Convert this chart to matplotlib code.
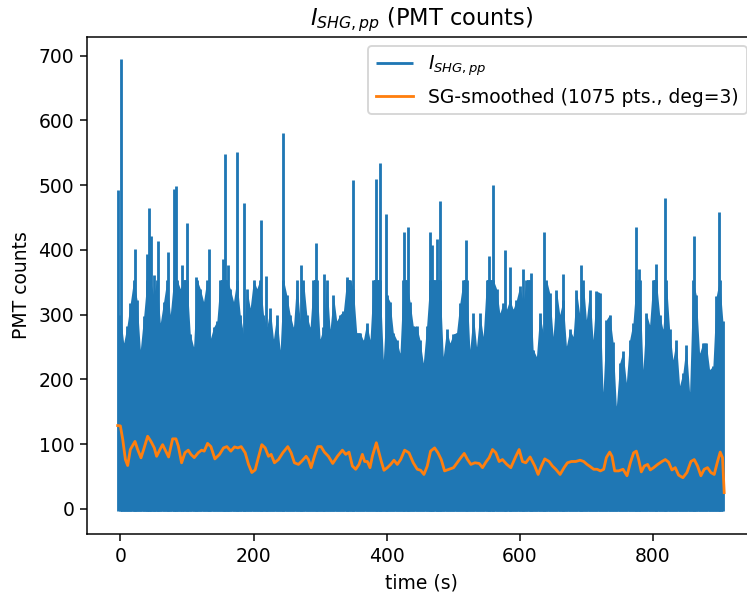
import numpy as np
import matplotlib.pyplot as plt

# ------------------------------------------------------------
# values
# ------------------------------------------------------------
# upper edge of the dense PMT band, one value every 5 s (0 ... 905 s)
band_t = list(range(0, 910, 5))
band_top = [
    300, 256, 282, 318, 354, 323, 246, 297, 354, 354,
    330, 354, 287, 320, 354, 300, 354, 354, 340, 354,
    354, 270, 250, 354, 340, 320, 354, 262, 280, 290,
    354, 354, 354, 340, 320, 354, 300, 270, 340, 310,
    354, 340, 354, 300, 280, 310, 262, 300, 245, 354,
    330, 300, 280, 354, 290, 354, 300, 280, 354, 354,
    262, 280, 354, 277, 330, 290, 300, 305, 354, 354,
    340, 272, 272, 260, 287, 261, 354, 354, 354, 230,
    330, 320, 272, 261, 240, 354, 354, 320, 282, 282,
    261, 225, 282, 354, 354, 354, 354, 235, 277, 256,
    270, 272, 318, 354, 354, 246, 302, 250, 302, 266,
    354, 354, 354, 340, 302, 318, 308, 323, 308, 323,
    344, 320, 354, 354, 246, 235, 302, 272, 354, 333,
    266, 338, 300, 323, 251, 277, 266, 338, 300, 354,
    292, 338, 261, 336, 334, 180, 292, 300, 258, 158,
    225, 243, 195, 261, 287, 354, 354, 215, 302, 284,
    354, 354, 300, 277, 354, 277, 230, 261, 190, 210,
    253, 180, 354, 330, 240, 256, 256, 215, 220, 328,
    354, 290,
]
band_floor = -4

# single spikes sticking out above the band
spike_t = [-3, 1, 22, 40, 43.5, 46.5, 50, 56, 71, 80.5, 84, 93, 99.5, 113,
           132.5, 154.5, 157.5, 161, 174.5, 186, 211, 218.5, 244.5, 271,
           294, 306, 341, 349, 384.5, 389.5, 398.5, 426, 431.5, 465, 468.5,
           476, 480, 518.5, 554, 559, 577.5, 586, 605, 617.5, 636, 665,
           692.5, 774, 778.5, 805, 818, 862, 899.5]
spike_v = [493, 694, 402, 394, 465, 421, 361, 413, 397, 494, 498, 376, 442,
           358, 401, 386, 548, 377, 551, 473, 446, 359, 580, 376, 411, 363,
           358, 508, 510, 534, 455, 428, 436, 427, 408, 416, 476, 415, 391,
           500, 399, 374, 371, 364, 428, 363, 377, 435, 370, 378, 480, 421,
           459]

# Savitzky-Golay smoothed curve
sg_t = [-4, 0, 3.6, 7.6, 11, 15, 22, 26, 31, 35, 41, 46, 51, 54.5, 59.5,
        63.5, 67, 72.5, 78.5, 83.5, 87, 92, 97, 102, 106, 111, 117, 122,
        126, 131, 136, 142, 149, 155, 160, 166, 171.5, 176.5, 181.5, 187.5,
        192.5, 197.5, 202.5, 206.5, 212.5, 217.5, 222.5, 226.5, 231.5,
        237.5, 244, 251.5, 256.5, 261.5, 267.5, 272.5, 279, 282.5, 286.5,
        291.5, 296.5, 301.5, 306.5, 312.5, 319, 326, 333.5, 338.5, 343.5,
        348.5, 353.5, 358.5, 363.5, 367, 371, 375, 378.5, 384.5, 388.5,
        392, 396, 401, 406, 411, 416, 421, 427, 433.5, 440, 446, 451, 456,
        461, 466, 472, 477, 482, 487, 494, 500.5, 506.5, 511.5, 516.5,
        521.5, 526.5, 532.5, 539, 544, 549, 554, 559, 564, 569, 574, 580.5,
        586.5, 594, 599, 604, 609, 615.5, 619, 622.5, 627.5, 632.5, 637.5,
        644, 649, 654, 660.5, 666.5, 671.5, 677.5, 684, 690.5, 696, 701,
        706, 711, 716, 721, 726, 730, 735, 738.5, 742.5, 748.5, 755, 761,
        766, 771, 775, 778.5, 782.5, 787, 792, 796, 801, 807, 813.5, 818.5,
        823.5, 828.5, 833.5, 838.5, 845, 851, 857, 862, 867, 872, 877, 882,
        887, 892, 897, 901, 904.5, 907]
sg_v = [128.5, 128, 107, 76, 66.8, 91.5, 104, 91.5, 78.7, 91.5, 112, 104,
        94, 81, 91.5, 99, 91.5, 80, 108, 108, 97, 71, 86.5, 90.5, 84, 79,
        86.5, 90.5, 89, 101, 96, 77, 84, 94, 96, 89, 95.5, 94, 96, 86.5,
        68.5, 56, 60, 76, 99, 94, 81, 84, 71, 76, 86.5, 96, 86.5, 71, 68.5,
        73.5, 81, 76, 63.5, 81, 96, 96, 87.5, 81, 70, 81, 90.5, 84, 87.5,
        66, 61, 68.5, 84, 73, 73, 63.5, 81, 102, 86.5, 73, 59.5, 63.5,
        68.5, 75, 68.5, 76, 90.5, 86.5, 71, 61, 59.5, 53, 66, 89, 94, 86.5,
        76, 58.5, 61, 63.5, 72, 79, 85.5, 76, 68.5, 71, 70, 63.5, 72, 79,
        91.5, 86.5, 73, 76, 68.5, 63.5, 81, 91.5, 73, 71, 80, 73, 66, 53,
        66, 77, 73, 66, 61, 53, 63.5, 71, 73, 73, 75, 73, 68.5, 65, 61, 61,
        58.5, 61, 79, 87.5, 81, 58.5, 58.5, 61, 51, 71, 86.5, 89, 76, 57,
        66, 68.5, 60, 63.5, 68.5, 73, 76, 72, 60, 63.5, 52, 48, 56, 73, 76,
        66, 51, 61, 63.5, 56, 53, 73, 87.5, 79, 25]

# ------------------------------------------------------------
# figure (6.4x4.8 in at ~135 dpi originally, shown cropped)
# ------------------------------------------------------------
DPI = 135
fig = plt.figure(figsize=(747 / DPI, 594 / DPI), dpi=DPI)
# the right spine sits just outside the saved picture in the reference
ax = fig.add_axes([0.1169, 0.101, 0.895, 0.837])

ax.vlines(spike_t, band_floor, spike_v, color="#1f77b4", linewidth=1.5,
          label=r"$I_{SHG,pp}$")
ax.fill_between(band_t, band_floor, band_top, color="#1f77b4", linewidth=0)
ax.vlines(band_t, band_floor, band_top, color="#1f77b4", linewidth=1.5)
ax.plot(sg_t, sg_v, color="#ff7f0e", linewidth=1.5,
        label="SG-smoothed (1075 pts., deg=3)", zorder=3)

ax.set_xlim(-49.6, 954.6)
ax.set_ylim(-39, 729)
ax.set_xlabel("time (s)")
ax.set_ylabel("PMT counts")
ax.set_title(r"$I_{SHG,pp}$ (PMT counts)")
ax.legend(loc="upper right")

fig.savefig("out.png", dpi=DPI)
